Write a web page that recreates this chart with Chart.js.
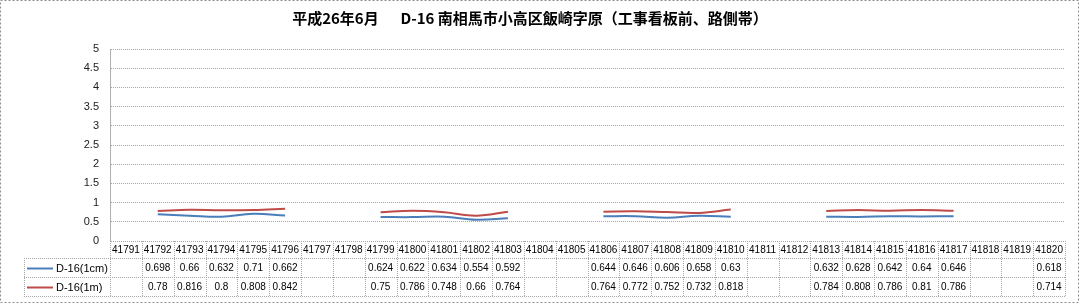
<!DOCTYPE html>
<html>
<head>
<meta charset="utf-8">
<script src="https://cdn.jsdelivr.net/npm/chart.js@4"></script>
<style>
  html, body { margin: 0; padding: 0; background: #fff; }
  #wrap { width: 1081px; height: 306px; position: relative; }
</style>
</head>
<body>
<div id="wrap"><canvas id="chart" width="1081" height="306"></canvas></div>
<script>
/* ── Data ── */
const TITLE = '平成26年6月　  D-16 南相馬市小高区飯崎字原（工事看板前、路側帯）';

const DAYS = [
  '41791', '41792', '41793', '41794', '41795', '41796', '41797', '41798', '41799', '41800',
  '41801', '41802', '41803', '41804', '41805', '41806', '41807', '41808', '41809', '41810',
  '41811', '41812', '41813', '41814', '41815', '41816', '41817', '41818', '41819', '41820',
];

const Y_TICKS = ['0', '0.5', '1', '1.5', '2', '2.5', '3', '3.5', '4', '4.5', '5'];

const SERIES_NAMES = ['D-16(1cm)', 'D-16(1m)'];
const SERIES_COLORS = ['#4a7ebb', '#be4b48'];

const D16_1CM = [
  null, 0.698, 0.66, 0.632, 0.71, 0.662, null, null, 0.624, 0.622,
  0.634, 0.554, 0.592, null, null, 0.644, 0.646, 0.606, 0.658, 0.63,
  null, null, 0.632, 0.628, 0.642, 0.64, 0.646, null, null, 0.618,
];

const D16_1M = [
  null, 0.78, 0.816, 0.8, 0.808, 0.842, null, null, 0.75, 0.786,
  0.748, 0.66, 0.764, null, null, 0.764, 0.772, 0.752, 0.732, 0.818,
  null, null, 0.784, 0.808, 0.786, 0.81, 0.786, null, null, 0.714,
];

const NUM_FONT = '10px "Liberation Sans", Arial, sans-serif';
const GRID_GRAY = '#a6a6a6';

/* ── Title, outer frame and data table ── */
const tablePlugin = {
  id: 'tablePlugin',
  afterDraw(chart) {
    const { ctx, chartArea, scales } = chart;
    const x = scales.x;
    const W = chart.width;

    ctx.save();

    // outer dashed frame
    ctx.strokeStyle = '#8c8c8c';
    ctx.lineWidth = 1;
    ctx.setLineDash([2, 2]);
    ctx.strokeRect(0.5, 0.5, W - 3, 302);

    // title
    ctx.setLineDash([]);
    ctx.fillStyle = '#000';
    ctx.font = 'bold 15px "Noto Sans CJK JP", sans-serif';
    ctx.textAlign = 'center';
    ctx.textBaseline = 'middle';
    ctx.fillText(TITLE, 530, 18);

    // table geometry
    const colW = (chartArea.right - chartArea.left) / DAYS.length;
    const top = chartArea.bottom;
    const rowY = [top + 17, top + 36, top + 55];
    const tableLeft = 24;

    ctx.strokeStyle = GRID_GRAY;
    ctx.setLineDash([1, 1]);
    ctx.beginPath();
    rowY.forEach(y => {
      ctx.moveTo(tableLeft, Math.round(y) + 0.5);
      ctx.lineTo(chartArea.right, Math.round(y) + 0.5);
    });
    for (let i = 0; i <= DAYS.length; i++) {
      const vx = Math.round(chartArea.left + i * colW) + 0.5;
      ctx.moveTo(vx, top);
      ctx.lineTo(vx, rowY[2]);
    }
    ctx.moveTo(tableLeft + 0.5, rowY[0]);
    ctx.lineTo(tableLeft + 0.5, rowY[2]);
    ctx.stroke();
    ctx.setLineDash([]);

    // series rows
    [D16_1CM, D16_1M].forEach((vals, r) => {
      const cy = (rowY[r] + rowY[r + 1]) / 2 + 1;

      ctx.strokeStyle = SERIES_COLORS[r];
      ctx.lineWidth = 2;
      ctx.beginPath();
      ctx.moveTo(27, cy);
      ctx.lineTo(53, cy);
      ctx.stroke();

      ctx.fillStyle = '#000';
      ctx.font = '11px "Liberation Sans", Arial, sans-serif';
      ctx.textAlign = 'left';
      ctx.fillText(SERIES_NAMES[r], 56, cy);

      ctx.font = NUM_FONT;
      ctx.textAlign = 'center';
      vals.forEach((v, i) => {
        if (v === null) return;
        ctx.fillText(String(v), x.getPixelForValue(i), cy);
      });
    });

    ctx.restore();
  }
};

/* ── Chart ── */
new Chart(document.getElementById('chart'), {
  type: 'line',
  data: {
    labels: DAYS,
    datasets: [
      {
        label: SERIES_NAMES[0],
        data: D16_1CM,
        borderColor: SERIES_COLORS[0],
        backgroundColor: SERIES_COLORS[0],
        borderWidth: 2,
        pointRadius: 0,
        tension: 0.4,
        spanGaps: false,
      },
      {
        label: SERIES_NAMES[1],
        data: D16_1M,
        borderColor: SERIES_COLORS[1],
        backgroundColor: SERIES_COLORS[1],
        borderWidth: 2,
        pointRadius: 0,
        tension: 0.4,
        spanGaps: false,
      },
    ]
  },
  options: {
    responsive: false,
    animation: false,
    layout: { padding: { left: 24, right: 16, top: 49, bottom: 48 } },
    plugins: {
      legend: { display: false },
      title: { display: false },
      tooltip: { enabled: false }
    },
    scales: {
      x: {
        type: 'category',
        offset: true,
        grid: { display: false, drawTicks: false },
        border: { display: false },
        ticks: {
          color: '#000',
          font: { family: '"Liberation Sans", Arial, sans-serif', size: 10 },
          padding: 3,
          maxRotation: 0,
          minRotation: 0,
          autoSkip: false
        },
        afterFit: s => { s.height = 17; }
      },
      y: {
        min: 0,
        max: 5,
        grid: { color: GRID_GRAY, drawTicks: false },
        border: { display: true, color: '#b0b0b0', dash: [1, 1] },
        ticks: {
          stepSize: 0.5,
          color: '#222',
          padding: 11,
          font: { family: '"Liberation Sans", Arial, sans-serif', size: 11 },
          callback: (val, i) => Y_TICKS[i]
        },
        afterFit: s => { s.width = 86; }
      }
    }
  },
  plugins: [tablePlugin]
});
</script>
</body>
</html>
